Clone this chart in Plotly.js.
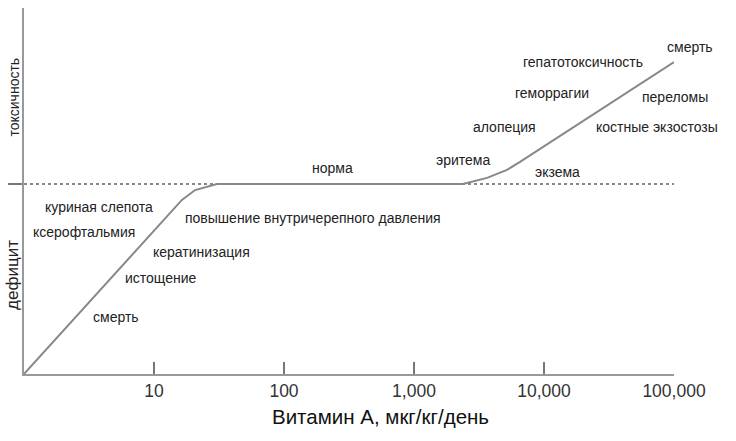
<!DOCTYPE html>
<html><head><meta charset="utf-8">
<script src="https://cdn.plot.ly/plotly-3.0.1.min.js"></script>
<style>html,body{margin:0;padding:0;background:#fff}#chart{width:736px;height:441px}</style>
</head><body><div id="chart"></div>
<script>
// Curve (vitamin A dose, µg/kg/day vs. effect level: -1 = deficit death, 0 = norm)
const curveX = [1, 16.4, 20.7, 30.5, 2380, 3650, 5190, 6540, 100000];
const curveY = [-1, -0.084, -0.032, 0, 0, 0.032, 0.074, 0.116, 0.642];
const normX = [1, 100000];
const normY = [0, 0];
const tickVals = [10, 100, 1000, 10000, 100000];
const tickText = ['10', '100', '1,000', '10,000', '100,000'];
const labels = ['куриная слепота','ксерофтальмия','кератинизация','истощение','смерть',
  'повышение внутричерепного давления','норма','эритема','экзема','алопеция','геморрагии',
  'гепатотоксичность','смерть','переломы','костные экзостозы'];
const labelX = [3.78, 2.9, 23.4, 11.3, 5.1, 167, 238, 2380, 12600, 5010, 11500, 20000, 133000, 101800, 74000];
const labelY = [-0.121, -0.253, -0.358, -0.495, -0.7, -0.179, 0.084, 0.126, 0.063, 0.3, 0.479, 0.642, 0.721, 0.458, 0.3];
const xTitle = 'Витамин А, мкг/кг/день';
const yTop = 'токсичность';
const yBottom = 'дефицит';

const font = 'Liberation Sans, Arial, sans-serif';
const ann = labels.map((t, i) => ({
  text: t, x: Math.log10(labelX[i]) / 5, y: labelY[i], xref: 'paper', yref: 'y',
  showarrow: false, xanchor: 'center', yanchor: 'middle',
  font: {family: font, size: 14, color: '#222'}
}));
ann.push({text: xTitle, xref: 'paper', yref: 'paper', x: 0.548, y: -0.117,
  showarrow: false, xanchor: 'center', yanchor: 'middle',
  font: {family: font, size: 20.5, color: '#111'}});
ann.push({text: yTop, xref: 'paper', yref: 'y', x: -0.016, y: 0.458, textangle: -90,
  showarrow: false, xanchor: 'center', yanchor: 'middle',
  font: {family: font, size: 14, color: '#222'}});
ann.push({text: yBottom, xref: 'paper', yref: 'y', x: -0.017, y: -0.479, textangle: -90,
  showarrow: false, xanchor: 'center', yanchor: 'middle',
  font: {family: font, size: 17, color: '#222'}});

const data = [
  {x: normX, y: normY, mode: 'lines', line: {color: '#888', width: 2, dash: 'dot'}, hoverinfo: 'skip'},
  {x: curveX, y: curveY, mode: 'lines', line: {color: '#888', width: 2}, hoverinfo: 'skip'}
];
const layout = {
  width: 736, height: 441,
  margin: {l: 24, r: 62, t: 8, b: 67},
  paper_bgcolor: '#fff', plot_bgcolor: '#fff',
  showlegend: false,
  xaxis: {type: 'log', range: [0, 5], showgrid: false, zeroline: false,
    showline: true, linecolor: '#999', linewidth: 2,
    ticks: 'inside', ticklen: 12, tickwidth: 1.5, tickcolor: '#777',
    tickvals: tickVals, ticktext: tickText,
    tickfont: {family: font, size: 17.5, color: '#333'}},
  yaxis: {range: [-1, 0.926], showgrid: false, zeroline: false,
    showline: true, linecolor: '#999', linewidth: 2,
    ticks: 'outside', ticklen: 14, tickwidth: 2, tickcolor: '#777',
    tickvals: [0], showticklabels: false},
  annotations: ann
};
Plotly.newPlot('chart', data, layout, {staticPlot: true});
</script></body></html>
